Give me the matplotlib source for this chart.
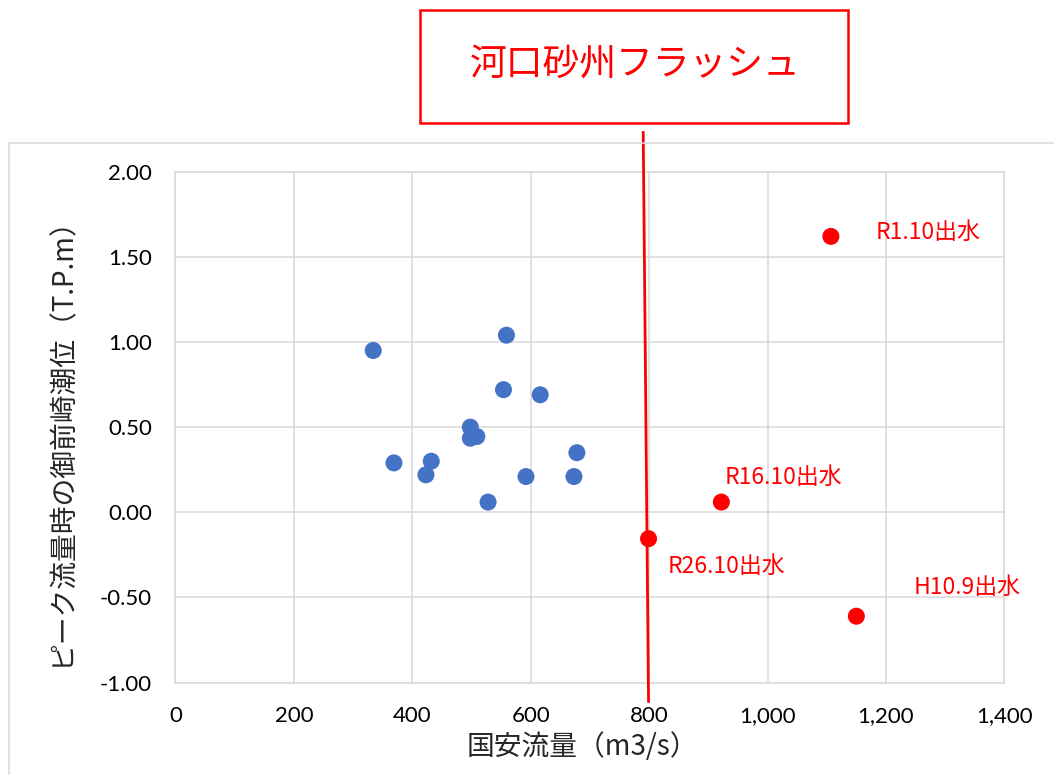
import matplotlib
matplotlib.use("Agg")
import matplotlib.pyplot as plt
from matplotlib.patches import Rectangle
from matplotlib.ticker import FuncFormatter, MultipleLocator

# Ordinary floods: peak discharge at Kuniyasu (m3/s) vs. tide level at Omaezaki (T.P.m)
normal_flow = [334, 369, 423, 432, 498, 498, 509, 528, 554, 559, 592, 616, 673, 678]
normal_tide = [0.95, 0.29, 0.22, 0.30, 0.50, 0.435, 0.445, 0.06, 0.72, 1.04, 0.21, 0.69, 0.21, 0.35]

# Floods that flushed the river-mouth sandbar
flush_flow = [1107, 922, 799, 1150]
flush_tide = [1.62, 0.06, -0.155, -0.61]
flush_labels = ["R1.10出水", "R16.10出水", "R26.10出水", "H10.9出水"]
flush_label_offsets = [(32, 3), (2.5, 18), (14, -20), (41.5, 21)]

# Threshold line separating flushing floods
threshold_flow = [790, 799]
threshold_tide = [2.23, -1.11]

x_ticks = [0, 200, 400, 600, 800, 1000, 1200, 1400]
y_ticks = [-1.00, -0.50, 0.00, 0.50, 1.00, 1.50, 2.00]

title_text = "河口砂州フラッシュ"
x_label = "国安流量（m3/s）"
y_label = "ピーク流量時の御前崎潮位（T.P.m）"

BLUE = "#4472C4"
RED = "#FF0000"
GRID = "#D9D9D9"
JP = ["Noto Sans CJK JP", "DejaVu Sans"]
NUM = ["Lato", "DejaVu Sans"]

fig = plt.figure(figsize=(10.54, 7.75), dpi=100)
ax = fig.add_axes([0.1665, 0.1192, 0.7864, 0.6593])

# Chart area border
fig.patches.append(Rectangle((0.0085, -0.02), 1.0, 0.8355, transform=fig.transFigure,
                             fill=False, edgecolor=GRID, linewidth=1.1))

ax.set_xlim(x_ticks[0], x_ticks[-1])
ax.set_ylim(y_ticks[0], y_ticks[-1])
ax.xaxis.set_major_locator(MultipleLocator(200))
ax.yaxis.set_major_locator(MultipleLocator(0.5))
ax.xaxis.set_major_formatter(FuncFormatter(lambda v, p: f"{v:,.0f}"))
ax.yaxis.set_major_formatter(FuncFormatter(lambda v, p: f"{v:.2f}".replace("\u2212", "-")))
ax.grid(True, color=GRID, linewidth=1.1)
ax.set_axisbelow(True)
for s in ax.spines.values():
    s.set_color(GRID)
    s.set_linewidth(1.1)
ax.tick_params(length=0, labelsize=16, colors="black", pad=17)
for lab in ax.get_xticklabels() + ax.get_yticklabels():
    lab.set_family(NUM)

ax.scatter(normal_flow, normal_tide, s=150, color=BLUE, edgecolors="none", zorder=3)
ax.scatter(flush_flow, flush_tide, s=150, color=RED, edgecolors="none", zorder=4)

for fx, fy, txt, off in zip(flush_flow, flush_tide, flush_labels, flush_label_offsets):
    ax.annotate(txt, (fx, fy), xytext=off, textcoords="offset points",
                ha="left", va="center", color=RED, fontsize=16.5, family=JP)

ax.plot(threshold_flow, threshold_tide, color=RED, linewidth=2.0, clip_on=False, zorder=5)

ax.set_xlabel(x_label, fontsize=20, family=JP, color="#262626")
ax.set_ylabel(y_label, fontsize=20, family=JP, color="#262626")
ax.xaxis.label.set_va("center")
ax.yaxis.label.set_va("center")
ax.xaxis.set_label_coords(0.491, -0.126)
ax.yaxis.set_label_coords(-0.138, 0.487)

# Callout box with the heading
fig.patches.append(Rectangle((0.3985, 0.8413), 0.4061, 0.1458, transform=fig.transFigure,
                             fill=True, facecolor="white", edgecolor=RED, linewidth=1.8,
                             zorder=6))
fig.text(0.6025, 0.916, title_text, ha="center", va="center", color=RED,
         fontsize=26.5, family=JP, zorder=7)

fig.savefig("out.png", dpi=100)
